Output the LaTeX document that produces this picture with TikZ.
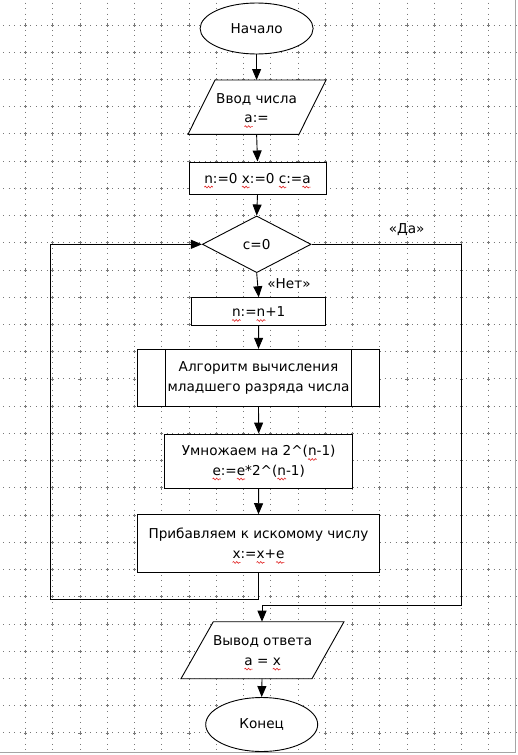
\documentclass[tikz,border=0pt]{standalone}
\usepackage{fontspec}
\setmainfont{DejaVu Sans}
\usetikzlibrary{shapes.geometric,arrows.meta,decorations.pathmorphing}
\definecolor{squig}{RGB}{225,35,35}
\definecolor{gridc}{RGB}{120,120,120}
\definecolor{edgec}{RGB}{165,165,165}
\newsavebox\sqbox
\newlength\sqwd
\newcommand\sq[1]{\sbox\sqbox{#1}\setlength\sqwd{\wd\sqbox}%
  \rlap{\tikz[baseline=0pt,overlay,x=1pt,y=1pt]\draw[squig,line width=0.6pt,decorate,decoration={snake,amplitude=0.9pt,segment length=3.2pt}] (0,-4) -- (\sqwd,-4);}\usebox\sqbox}
\tikzset{
  every node/.style={font=\fontsize{13.6}{19.5}\selectfont},
  shp/.style={draw=black, line width=0.9pt, fill=white, inner sep=0pt, align=center},
  term/.style={shp, ellipse},
  proc/.style={shp, rectangle},
  cond/.style={shp, diamond},
  txt/.style={inner sep=0pt, align=center},
  flow/.style={draw=black, line width=0.9pt},
  arr/.style={flow, -{Triangle[length=11pt,width=9pt]}},
  griddot/.style={draw=gridc, line width=1pt, dash pattern=on 1pt off 4.45pt},
  gridx/.style={draw=gridc, line width=0.9pt},
}
\begin{document}
\begin{tikzpicture}[x=1pt,y=-1pt]
\useasboundingbox (0,0) rectangle (518,755);
% grid
\foreach \i in {0,...,17} {
  \draw[griddot] ({25.5+27.25*\i},-2.73) -- ({25.5+27.25*\i},755);
}
\foreach \j in {0,...,26} {
  \draw[griddot] (-2.25,{25+27.23*\j}) -- (518,{25+27.23*\j});
}
\foreach \i in {0,...,17} {
  \foreach \j in {0,...,26} {
    \draw[gridx] ({25.5+27.25*\i-1.6},{25+27.23*\j}) -- ({25.5+27.25*\i+1.6},{25+27.23*\j})
                 ({25.5+27.25*\i},{25+27.23*\j-1.6}) -- ({25.5+27.25*\i},{25+27.23*\j+1.6});
  }
}
\draw[edgec, line width=1pt] (515.7,0) -- (515.7,752.3) -- (0,752.3);

% start
\node[term, minimum width=113pt, minimum height=51pt] (start) at (256.6,28.5) {Начало};

% input parallelogram
\coordinate (inT) at (256.6,80);
\coordinate (inB) at (256.6,134.3);
\filldraw[fill=white, draw=black, line width=0.9pt] (215,80) -- (326,80) -- (299,134.3) -- (188,134.3) -- cycle;
\node[txt] (in) at (256.6,108) {Ввод числа\\\sq{а}:=};

% init
\node[proc, minimum width=137pt, minimum height=32.3pt] (init) at (257.5,178.1) {\sq{n}:=0 \sq{x}:=0 \sq{c}:=\sq{а}};

% decision
\node[cond, minimum width=108.7pt, minimum height=56.7pt] (dec) at (256.7,244.3) {c=0};

% n:=n+1
\node[proc, minimum width=134pt, minimum height=27.6pt] (inc) at (258.7,311.5) {\sq{n}:=\sq{n}+1};

% predefined process
\node[proc, minimum width=242.4pt, minimum height=57.4pt] (alg) at (258.5,378) {Алгоритм вычисления\\младшего разряда числа};
\draw[black, line width=0.9pt] ([xshift=28.6pt]alg.north west) -- ([xshift=28.6pt]alg.south west);
\draw[black, line width=0.9pt] ([xshift=-28.4pt]alg.north east) -- ([xshift=-28.4pt]alg.south east);

% multiply
\node[proc, minimum width=188pt, minimum height=54pt] (mul) at (258.7,461) {Умножаем на 2\^{}(\sq{n}-1)\\\sq{е}:=\sq{е}*2\^{}(\sq{n}-1)};

% add
\node[proc, minimum width=242.4pt, minimum height=57.6pt] (add) at (258.5,543.5) {Прибавляем к искомому числу\\\sq{х}:=\sq{х}+\sq{е}};

% output parallelogram
\coordinate (outT) at (262,621.7);
\coordinate (outB) at (262,678.7);
\filldraw[fill=white, draw=black, line width=0.9pt] (213.3,621.7) -- (344,621.7) -- (312,678.7) -- (181,678.7) -- cycle;
\node[txt] (out) at (262.6,650.5) {Вывод ответа\\\sq{а} = \sq{х}};

% end
\node[term, minimum width=112pt, minimum height=54pt] (stop) at (261.7,724.5) {Конец};

% connectors
\draw[arr] (start.south) -- (inT);
\draw[arr] (inB) -- (init.north);
\draw[arr] (init.south) -- (dec.north);
\draw[arr] (dec.south) -- (inc.north);
\draw[arr] (inc.south) -- (alg.north);
\draw[arr] (alg.south) -- (mul.north);
\draw[arr] (mul.south) -- (add.north);
\coordinate (lpA) at (258.5,599.3);
\coordinate (lpB) at (50.7,599.3);
\coordinate (lpC) at (50.7,244.3);
\draw[arr] (add.south) -- (lpA) -- (lpB) -- (lpC) -- (dec.west);
\coordinate (yA) at (461.7,244.3);
\coordinate (yB) at (461.7,605);
\coordinate (yC) at (262,605);
\draw[arr] (dec.east) -- (yA) -- (yB) -- (yC) -- (outT);
\draw[arr] (outB) -- (stop.north);

% labels
\node[txt] (yes) at (406.7,230) {«Да»};
\node[txt] (no) at (289,284) {«Нет»};
\end{tikzpicture}
\end{document}
